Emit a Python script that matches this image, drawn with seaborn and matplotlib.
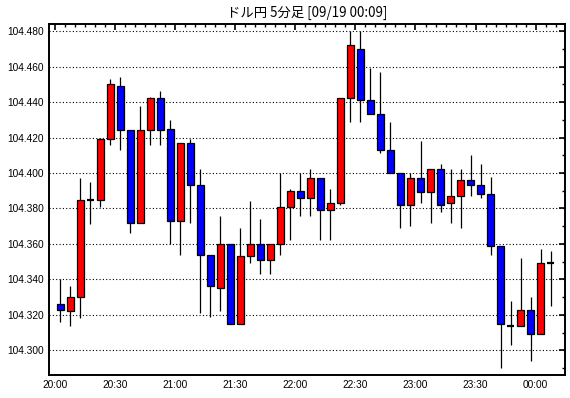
import matplotlib
matplotlib.use("Agg")
import matplotlib.pyplot as plt
from matplotlib.ticker import MultipleLocator, FixedLocator, FuncFormatter
import seaborn as sns
import pandas as pd

times = ["20:00","20:05","20:10","20:15","20:20","20:25","20:30","20:35","20:40","20:45",
         "20:50","20:55","21:00","21:05","21:10","21:15","21:20","21:25","21:30","21:35",
         "21:40","21:45","21:50","21:55","22:00","22:05","22:10","22:15","22:20","22:25",
         "22:30","22:35","22:40","22:45","22:50","22:55","23:00","23:05","23:10","23:15",
         "23:20","23:25","23:30","23:35","23:40","23:45","23:50","23:55","00:00","00:05"]
opens = [104.326,104.322,104.330,104.385,104.385,104.419,104.449,104.424,104.372,104.424,
         104.442,104.425,104.373,104.417,104.393,104.354,104.335,104.360,104.315,104.353,
         104.360,104.351,104.360,104.381,104.390,104.386,104.397,104.379,104.383,104.442,
         104.470,104.441,104.433,104.413,104.400,104.382,104.397,104.389,104.402,104.383,
         104.387,104.396,104.393,104.388,104.359,104.314,104.314,104.323,104.309,104.349]
highs = [104.340,104.336,104.397,104.395,104.420,104.453,104.454,104.424,104.438,104.443,
         104.446,104.430,104.417,104.419,104.402,104.354,104.376,104.360,104.369,104.384,
         104.374,104.360,104.400,104.391,104.400,104.402,104.397,104.391,104.442,104.480,
         104.480,104.459,104.457,104.429,104.400,104.400,104.418,104.402,104.405,104.402,
         104.402,104.410,104.405,104.398,104.359,104.328,104.352,104.330,104.357,104.356]
lows = [104.316,104.314,104.318,104.371,104.381,104.416,104.413,104.366,104.372,104.416,
        104.416,104.360,104.354,104.372,104.321,104.319,104.322,104.315,104.315,104.349,
        104.343,104.343,104.354,104.362,104.376,104.376,104.362,104.362,104.382,104.429,
        104.429,104.433,104.411,104.400,104.369,104.370,104.383,104.372,104.378,104.372,
        104.369,104.387,104.386,104.354,104.290,104.303,104.314,104.294,104.309,104.325]
closes = [104.323,104.330,104.385,104.385,104.419,104.450,104.424,104.372,104.424,104.442,
          104.424,104.373,104.417,104.393,104.354,104.336,104.360,104.315,104.353,104.360,
          104.351,104.360,104.381,104.390,104.386,104.397,104.379,104.383,104.442,104.472,
          104.441,104.433,104.413,104.400,104.382,104.397,104.389,104.402,104.382,104.387,
          104.396,104.393,104.388,104.359,104.315,104.314,104.323,104.309,104.349,104.349]
tick_labels = ["20:00","20:30","21:00","21:30","22:00","22:30","23:00","23:30","00:00"]
title = "ドル円 5分足 [09/19 00:09]"


def to_min(s):
    h, m = map(int, s.split(":"))
    v = (h - 20) * 60 + m
    if v < 0:
        v += 24 * 60
    return v


df = pd.DataFrame({"time": times, "open": opens, "high": highs, "low": lows, "close": closes})
df["x"] = df["time"].map(to_min) + 2.5

sns.set_theme(style="white")
plt.rcParams["font.family"] = ["Liberation Sans", "DejaVu Sans"]

fig = plt.figure(figsize=(5.70, 3.98), dpi=100, facecolor="white")
ax = fig.add_axes([49 / 570, 1 - 375 / 398, (565.3 - 49) / 570, (375 - 24) / 398])
ax.set_facecolor("white")

# wicks
ax.vlines(df["x"], df["low"], df["high"], color="black", linewidth=0.9, zorder=2)

# bodies
for _, r in df.iterrows():
    o, c = r["open"], r["close"]
    if abs(c - o) < 0.0004:
        ax.hlines(o, r["x"] - 1.75, r["x"] + 1.75, color="black", linewidth=1.6, zorder=3)
    else:
        col = "#ff0000" if c > o else "#0000ff"
        ax.bar(r["x"], abs(c - o), bottom=min(o, c), width=3.5, color=col,
               edgecolor="black", linewidth=0.9, zorder=3)

ax.set_xlim(-3.0, 254.8)
ax.set_ylim(104.2861, 104.4840)

major_x = [to_min(t) for t in tick_labels]
ax.xaxis.set_major_locator(FixedLocator(major_x))
ax.set_xticklabels(tick_labels)
ax.xaxis.set_minor_locator(MultipleLocator(5))
ax.yaxis.set_major_locator(MultipleLocator(0.02))
ax.yaxis.set_minor_locator(MultipleLocator(0.01))
ax.yaxis.set_major_formatter(FuncFormatter(lambda v, p: f"{v:.3f}"))

ax.tick_params(which="both", direction="in", top=True, right=True, color="black",
               labelcolor="black")
ax.tick_params(which="major", length=4.5, width=1.2, labelsize=7.3, pad=3.5)
ax.tick_params(which="minor", length=2.3, width=1.0)

ax.grid(False)
ax.yaxis.grid(True, which="major", color="black", linestyle=(0, (1, 2)), linewidth=0.8)
ax.set_axisbelow(True)

for s in ax.spines.values():
    s.set_visible(True)
    s.set_color("black")
    s.set_linewidth(1.4)

fig.text((49 + 565.3) / 2 / 570, 1 - 13 / 398, title, ha="center", va="center",
         fontsize=9.6, family=["Noto Sans CJK JP", "DejaVu Sans"], color="black")

fig.savefig("out.png", dpi=100, facecolor="white")
